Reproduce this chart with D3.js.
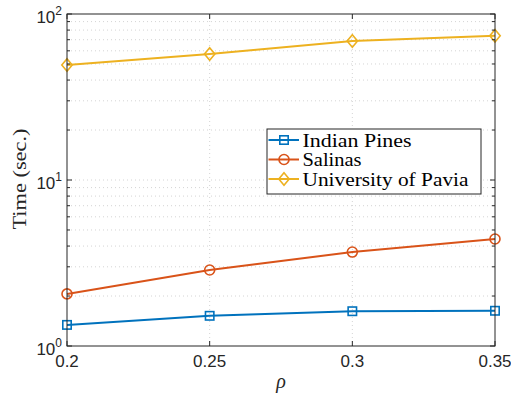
<!DOCTYPE html>
<html>
<head>
<meta charset="utf-8">
<script src="https://cdn.jsdelivr.net/npm/d3@7"></script>
<style>
  body { margin: 0; background: #fff; }
  svg { display: block; }
  .serif { font-family: "Liberation Serif", "Times New Roman", serif; }
  .sans { font-family: "Liberation Sans", Arial, Helvetica, sans-serif; }
</style>
</head>
<body>
<script>
// data
const rho = [0.2, 0.25, 0.3, 0.35];
const indianPines = [1.34, 1.52, 1.62, 1.63];
const salinas = [2.06, 2.87, 3.68, 4.41];
const pavia = [49.3, 57.4, 68.8, 74.0];
const seriesNames = ['Indian Pines', 'Salinas', 'University of Pavia'];
const xTicks = [0.2, 0.25, 0.3, 0.35];

const width = 511, height = 398;
const margin = {top: 14, right: 16, bottom: 52, left: 67};
const colors = ['#0072BD', '#D95319', '#EDB120'];
const shapes = ['square', 'circle', 'diamond'];

const x = d3.scaleLinear()
  .domain([0.2, 0.35])
  .range([margin.left, width - margin.right]);

const y = d3.scaleLog()
  .domain([1, 100])
  .range([height - margin.bottom, margin.top]);

const svg = d3.select("body").append("svg")
  .attr("width", width)
  .attr("height", height);

const x0 = margin.left, x1 = width - margin.right;
const y0 = height - margin.bottom, y1 = margin.top;

// minor + major log grid
let gridVals = [];
for (let d = 1; d < 100; d *= 10) {
  for (let k = 1; k < 10; k++) gridVals.push(d * k);
}
gridVals.push(100);

const grid = svg.append("g").attr("stroke", "#d4d4d4").attr("stroke-dasharray", "1,3");
grid.selectAll("line.h")
  .data(gridVals.filter(v => v > 1 && v < 100))
  .join("line")
    .attr("x1", x0).attr("x2", x1)
    .attr("y1", d => y(d)).attr("y2", d => y(d));
grid.selectAll("line.v")
  .data(xTicks.slice(1, -1))
  .join("line")
    .attr("class", "v")
    .attr("y1", y0).attr("y2", y1)
    .attr("x1", d => x(d)).attr("x2", d => x(d));

// series lines
const allSeries = [indianPines, salinas, pavia];
const line = d3.line().x((d, i) => x(rho[i])).y(d => y(d));

allSeries.forEach((s, si) => {
  svg.append("path")
    .datum(s)
    .attr("fill", "none")
    .attr("stroke", colors[si])
    .attr("stroke-width", 2)
    .attr("d", line);
});

function drawMarker(g, shape, cx, cy, color) {
  if (shape === 'square') {
    g.append("rect").attr("x", cx - 4.2).attr("y", cy - 4.2).attr("width", 8.4).attr("height", 8.4)
      .attr("fill", "none").attr("stroke", color).attr("stroke-width", 1.6);
  } else if (shape === 'circle') {
    g.append("circle").attr("cx", cx).attr("cy", cy).attr("r", 5)
      .attr("fill", "none").attr("stroke", color).attr("stroke-width", 1.6);
  } else {
    g.append("path").attr("d", `M${cx},${cy - 6.3}L${cx + 5.2},${cy}L${cx},${cy + 6.3}L${cx - 5.2},${cy}Z`)
      .attr("fill", "none").attr("stroke", color).attr("stroke-width", 1.6);
  }
}

allSeries.forEach((s, si) => {
  const g = svg.append("g");
  s.forEach((v, i) => drawMarker(g, shapes[si], x(rho[i]), y(v), colors[si]));
});

// axes box and ticks (inward, both sides)
const axisColor = "#262626";
const ax = svg.append("g").attr("stroke", axisColor).attr("stroke-width", 1);
ax.append("rect").attr("x", x0).attr("y", y1).attr("width", x1 - x0).attr("height", y0 - y1)
  .attr("fill", "none");

gridVals.forEach(v => {
  const len = (Math.log10(v) % 1 === 0) ? 5 : 3;
  ax.append("line").attr("x1", x0).attr("x2", x0 + len).attr("y1", y(v)).attr("y2", y(v));
  ax.append("line").attr("x1", x1).attr("x2", x1 - len).attr("y1", y(v)).attr("y2", y(v));
});
xTicks.forEach(v => {
  ax.append("line").attr("x1", x(v)).attr("x2", x(v)).attr("y1", y0).attr("y2", y0 - 5);
  ax.append("line").attr("x1", x(v)).attr("x2", x(v)).attr("y1", y1).attr("y2", y1 + 5);
});

// tick labels
svg.append("g").selectAll("text")
  .data(xTicks)
  .join("text")
    .attr("class", "sans")
    .attr("x", d => x(d))
    .attr("y", y0 + 21)
    .attr("text-anchor", "middle")
    .attr("font-size", 17)
    .attr("fill", axisColor)
    .text(d => d3.format("")(d));

const yTickVals = [1, 10, 100];
const yl = svg.append("g");
yTickVals.forEach(v => {
  const t = yl.append("text")
    .attr("class", "sans")
    .attr("x", x0 - 5)
    .attr("y", y(v) + 9)
    .attr("text-anchor", "end")
    .attr("font-size", 17)
    .attr("fill", axisColor);
  t.append("tspan").text("10");
  t.append("tspan").attr("dy", -8).attr("font-size", 12).text(Math.round(Math.log10(v)));
});

// axis labels
svg.append("text")
  .attr("class", "serif")
  .attr("transform", `translate(26,179) rotate(-90)`)
  .attr("text-anchor", "middle")
  .attr("font-size", 19)
  .attr("textLength", 101)
  .attr("lengthAdjust", "spacingAndGlyphs")
  .attr("fill", axisColor)
  .text("Time (sec.)");

svg.append("text")
  .attr("class", "serif")
  .attr("x", (x0 + x1) / 2)
  .attr("y", 388)
  .attr("text-anchor", "middle")
  .attr("font-style", "italic")
  .attr("font-size", 20)
  .attr("fill", axisColor)
  .text("ρ");

// legend
const legendTextLen = [109, 59, 166];
const legendRowY = [11, 30.5, 50];
const lg = svg.append("g").attr("transform", "translate(267,129)");
lg.append("rect").attr("width", 214).attr("height", 65)
  .attr("fill", "#fff").attr("stroke", axisColor).attr("stroke-width", 1);
seriesNames.forEach((name, i) => {
  const cy = legendRowY[i];
  lg.append("line").attr("x1", 1.5).attr("x2", 32).attr("y1", cy).attr("y2", cy)
    .attr("stroke", colors[i]).attr("stroke-width", 2);
  drawMarker(lg, shapes[i], 17, cy, colors[i]);
  lg.append("text")
    .attr("class", "serif")
    .attr("x", 35.5).attr("y", cy + 6.5)
    .attr("font-size", 19)
    .attr("textLength", legendTextLen[i])
    .attr("lengthAdjust", "spacingAndGlyphs")
    .attr("fill", "#000")
    .text(name);
});
</script>
</body>
</html>
